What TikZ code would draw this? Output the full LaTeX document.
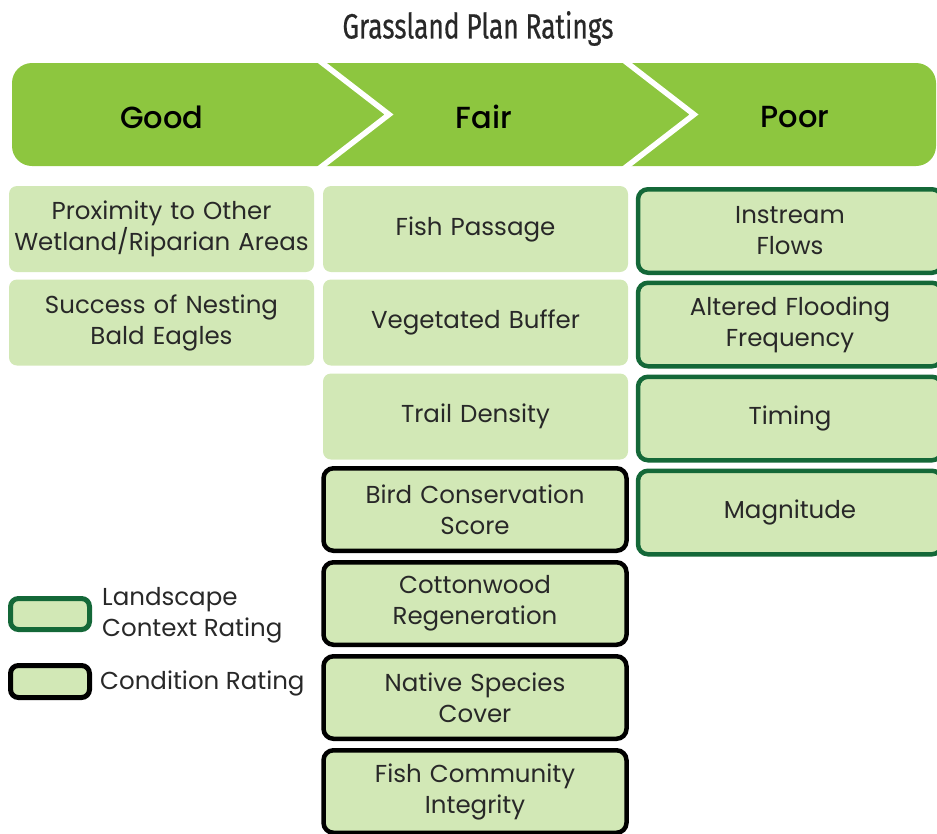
\documentclass[tikz,border=0pt]{standalone}
\usepackage{fontspec}
\usepackage{graphicx}
\setmainfont{Poppins}
\newfontfamily\medfont{Poppins Medium}
\newfontfamily\titlefont[FakeBold=0.6]{Fira Sans}
\definecolor{bannergreen}{RGB}{141,198,63}
\definecolor{boxfill}{RGB}{210,232,182}
\definecolor{darkgreen}{RGB}{20,104,56}
\definecolor{txt}{RGB}{40,40,40}
\tikzset{
  plainbox/.style={fill=boxfill, rounded corners=8pt, minimum width=305pt, minimum height=86pt,
    text width=302pt, align=center, inner sep=0pt, text=txt, font=\fontsize{24.5}{31}\selectfont},
  condbox/.style={plainbox, draw=black, line width=4.5pt, rounded corners=10pt, minimum width=303pt, minimum height=82.5pt},
  landbox/.style={plainbox, draw=darkgreen, line width=4.5pt, rounded corners=10pt, minimum width=304pt, minimum height=83.5pt},
  headlbl/.style={font=\medfont\fontsize{30.5}{36}\selectfont, text=black},
  legtxt/.style={anchor=west, inner sep=0pt, text=txt, align=left, font=\fontsize{24.5}{31}\selectfont}
}
\begin{document}
\begin{tikzpicture}[x=1pt,y=-1pt]
\useasboundingbox (0,0) rectangle (937,833);
\clip (0,0) rectangle (937,833);
% title
\node[text=txt] (title) at (478,28.5) {\titlefont\fontsize{35}{40}\selectfont\scalebox{0.75}[1]{Grassland Plan Ratings}};
% banner
\fill[bannergreen, rounded corners=20pt] (12,63) rectangle (936,166);
\draw[white, line width=5.5pt, line join=miter] (312,55) -- (389,114.5) -- (312,174);
\draw[white, line width=5.5pt, line join=miter] (617,55) -- (694,114.5) -- (617,174);
\node[headlbl] (good) at (162,117) {Good};
\node[headlbl] (fair) at (484,117) {Fair};
\node[headlbl] (poor) at (795,117) {Poor};
% Good column
\node[plainbox] (g1) at (161.5,229) {Proximity to Other\\Wetland/Riparian Areas};
\node[plainbox] (g2) at (161.5,322.5) {Success of Nesting\\Bald Eagles};
% Fair column
\node[plainbox] (f1) at (475.5,229) {Fish Passage};
\node[plainbox] (f2) at (475.5,322.5) {Vegetated Buffer};
\node[plainbox] (f3) at (475.5,416.5) {Trail Density};
\node[condbox] (f4) at (475,509.5) {Bird Conservation\\Score};
\node[condbox] (f5) at (475,603.5) {Cottonwood\\Regeneration};
\node[condbox] (f6) at (475,697.5) {Native Species\\Cover};
\node[condbox] (f7) at (475,791.5) {Fish Community\\Integrity};
% Poor column
\node[landbox] (p1) at (790,231) {Instream\\Flows};
\node[landbox] (p2) at (790,324.5) {Altered Flooding\\Frequency};
\node[landbox] (p3) at (790,418.5) {Timing};
\node[landbox] (p4) at (790,512.5) {Magnitude};
% legend
\node[fill=boxfill, draw=darkgreen, line width=5pt, rounded corners=8pt, minimum width=79pt, minimum height=31pt, inner sep=0pt] (leg1) at (50,614) {};
\node[fill=boxfill, draw=black, line width=5pt, rounded corners=8pt, minimum width=79pt, minimum height=32pt, inner sep=0pt] (leg2) at (50,681.5) {};
\node[legtxt] (leg1t) at (102,615) {Landscape\\Context Rating};
\node[legtxt] (leg2t) at (100,683) {Condition Rating};
\end{tikzpicture}
\end{document}
